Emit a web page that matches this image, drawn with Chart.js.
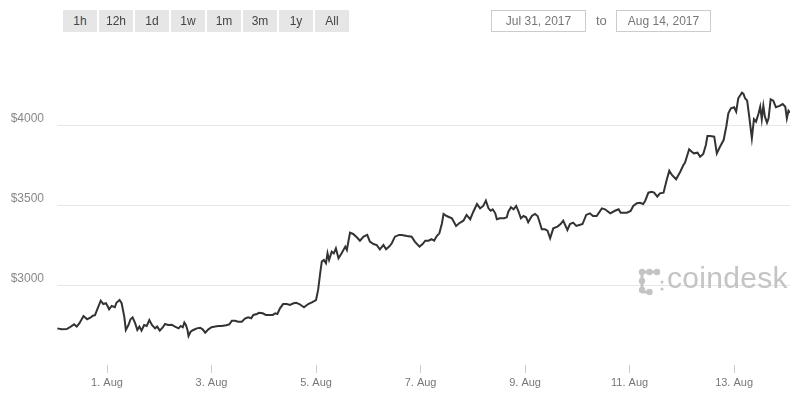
<!DOCTYPE html>
<html lang="en">
<head>
    <meta charset="UTF-8">
    <title>Bitcoin Price Chart</title>
    <style>
        body {
            margin: 0;
            background: #fff;
            font-family: "Liberation Sans", Arial, sans-serif;
        }
        .wrap {
            position: relative;
            width: 800px;
            height: 400px;
            overflow: hidden;
        }
        #priceChart {
            position: absolute;
            left: 0;
            top: 0;
        }
        .btn {
            position: absolute;
            top: 10px;
            width: 34px;
            height: 22px;
            line-height: 22px;
            background: #e6e6e6;
            color: #444;
            font-size: 12px;
            text-align: center;
        }
        .date {
            position: absolute;
            top: 10px;
            height: 20px;
            line-height: 20px;
            border: 1px solid #ccc;
            color: #777;
            font-size: 12px;
            text-align: center;
        }
        .to {
            position: absolute;
            top: 10px;
            left: 596px;
            line-height: 22px;
            color: #777;
            font-size: 13px;
        }
        .logo {
            position: absolute;
            left: 638px;
            top: 264px;
            pointer-events: none;
        }
        .logo span {
            position: absolute;
            left: 29px;
            top: -3px;
            font-size: 30px;
            color: #c4c4c4;
            letter-spacing: 0.3px;
        }
    </style>
</head>
<body>
<div class="wrap">
    <canvas id="priceChart" width="800" height="400"></canvas>

    <div class="btn" style="left:63px">1h</div>
    <div class="btn" style="left:99px">12h</div>
    <div class="btn" style="left:135px">1d</div>
    <div class="btn" style="left:171px">1w</div>
    <div class="btn" style="left:207px">1m</div>
    <div class="btn" style="left:243px">3m</div>
    <div class="btn" style="left:279px">1y</div>
    <div class="btn" style="left:315px">All</div>

    <div class="date" style="left:491px;width:93px">Jul 31, 2017</div>
    <div class="to">to</div>
    <div class="date" style="left:616px;width:93px">Aug 14, 2017</div>

    <div class="logo">
        <svg width="30" height="32" viewBox="0 0 30 32">
            <g fill="#c4c4c4" stroke="#c4c4c4">
                <line x1="4" y1="8" x2="19" y2="8" stroke-width="3"/>
                <line x1="4" y1="8" x2="4" y2="28" stroke-width="3"/>
                <line x1="4" y1="28" x2="11" y2="28" stroke-width="3"/>
                <circle cx="4" cy="8" r="3.2" stroke="none"/>
                <circle cx="11.5" cy="8" r="3.2" stroke="none"/>
                <circle cx="19" cy="8" r="3.2" stroke="none"/>
                <circle cx="4" cy="17" r="3.2" stroke="none"/>
                <circle cx="4" cy="26" r="3.2" stroke="none"/>
                <circle cx="11.5" cy="28" r="3.2" stroke="none"/>
                <circle cx="24" cy="18" r="1.5" stroke="none"/>
                <circle cx="24" cy="25" r="1.5" stroke="none"/>
            </g>
        </svg>
        <span>coindesk</span>
    </div>
</div>

<script src="https://cdn.jsdelivr.net/npm/chart.js"></script>
<script>
    // time in days since Jul 31 00:00, price in USD
    const days = [
        0.05, 0.13, 0.23, 0.29, 0.37, 0.42, 0.47, 0.55, 0.62, 0.69, 0.73, 0.77, 0.81, 0.88, 0.93, 0.98,
        1.01, 1.04, 1.09, 1.15, 1.18, 1.24, 1.28, 1.33, 1.36, 1.41, 1.45, 1.49, 1.54, 1.58, 1.62, 1.66,
        1.71, 1.76, 1.81, 1.86, 1.92, 1.96, 2.01, 2.07, 2.11, 2.17, 2.24, 2.30, 2.37, 2.41, 2.45, 2.48,
        2.51, 2.54, 2.56, 2.60, 2.65, 2.72, 2.78, 2.83, 2.88, 2.94, 3.00, 3.07, 3.13, 3.19, 3.28, 3.34,
        3.39, 3.45, 3.51, 3.58, 3.64, 3.70, 3.76, 3.80, 3.87, 3.91, 3.98, 4.04, 4.11, 4.17, 4.22, 4.26,
        4.31, 4.37, 4.44, 4.50, 4.57, 4.62, 4.68, 4.77, 4.85, 4.92, 5.00, 5.04, 5.08, 5.11, 5.15, 5.19,
        5.22, 5.25, 5.30, 5.34, 5.38, 5.43, 5.49, 5.56, 5.59, 5.65, 5.71, 5.78, 5.84, 5.91, 5.98, 6.03,
        6.10, 6.16, 6.22, 6.29, 6.34, 6.40, 6.45, 6.51, 6.59, 6.64, 6.74, 6.83, 6.89, 6.98, 7.04, 7.09,
        7.15, 7.21, 7.26, 7.31, 7.36, 7.41, 7.44, 7.50, 7.60, 7.68, 7.74, 7.82, 7.88, 7.95, 8.01, 8.08,
        8.14, 8.20, 8.25, 8.30, 8.34, 8.38, 8.43, 8.46, 8.52, 8.60, 8.65, 8.68, 8.73, 8.78, 8.83, 8.87,
        8.92, 8.97, 9.02, 9.06, 9.13, 9.19, 9.24, 9.27, 9.32, 9.38, 9.43, 9.48, 9.54, 9.62, 9.68, 9.73,
        9.81, 9.86, 9.92, 9.98, 10.04, 10.10, 10.17, 10.24, 10.30, 10.37, 10.47, 10.53, 10.63, 10.72, 10.79, 10.83,
        10.95, 11.02, 11.07, 11.14, 11.20, 11.26, 11.30, 11.36, 11.42, 11.47, 11.53, 11.58, 11.65, 11.71, 11.76, 11.81,
        11.89, 11.97, 12.03, 12.06, 12.14, 12.19, 12.23, 12.30, 12.35, 12.41, 12.46, 12.49, 12.54, 12.62, 12.67, 12.73,
        12.80, 12.85, 12.89, 12.94, 13.00, 13.04, 13.08, 13.15, 13.18, 13.21, 13.25, 13.29, 13.34, 13.38, 13.42, 13.47,
        13.50, 13.53, 13.56, 13.59, 13.63, 13.66, 13.70, 13.75, 13.80, 13.87, 13.93, 13.98, 14.01, 14.04, 14.07
    ];
    const prices = [
        2729, 2723, 2725, 2736, 2754, 2740, 2760, 2806, 2786, 2798, 2808, 2811, 2844, 2902, 2881, 2886,
        2869, 2848, 2869, 2861, 2889, 2906, 2886, 2802, 2719, 2750, 2786, 2798, 2760, 2719, 2740, 2715,
        2750, 2744, 2781, 2750, 2729, 2740, 2715, 2736, 2756, 2750, 2752, 2740, 2729, 2744, 2736, 2765,
        2750, 2719, 2681, 2708, 2719, 2729, 2733, 2723, 2702, 2723, 2736, 2740, 2744, 2744, 2748, 2754,
        2777, 2777, 2771, 2771, 2790, 2798, 2792, 2813, 2819, 2827, 2823, 2813, 2813, 2813, 2823, 2819,
        2854, 2881, 2881, 2875, 2886, 2889, 2881, 2861, 2881, 2892, 2906, 2969, 3075, 3146, 3156, 3136,
        3198, 3156, 3208, 3198, 3229, 3167, 3198, 3240, 3219, 3327, 3319, 3298, 3277, 3302, 3313, 3271,
        3256, 3250, 3223, 3250, 3223, 3240, 3261, 3302, 3313, 3313, 3306, 3302, 3271, 3240, 3256, 3277,
        3277, 3286, 3277, 3306, 3323, 3386, 3444, 3431, 3417, 3369, 3386, 3402, 3438, 3411, 3458, 3506,
        3479, 3494, 3527, 3479, 3464, 3473, 3448, 3411, 3417, 3417, 3423, 3458, 3486, 3473, 3494, 3464,
        3417, 3431, 3423, 3392, 3431, 3444, 3431, 3402, 3348, 3348, 3340, 3292, 3354, 3365, 3381, 3402,
        3344, 3381, 3390, 3369, 3375, 3381, 3438, 3448, 3431, 3431, 3479, 3473, 3448, 3464, 3473, 3452,
        3452, 3463, 3494, 3511, 3514, 3506, 3527, 3577, 3583, 3577, 3552, 3573, 3577, 3656, 3714, 3688,
        3661, 3708, 3750, 3764, 3848, 3833, 3823, 3827, 3802, 3819, 3875, 3931, 3931, 3927, 3823, 3864,
        3906, 3989, 4073, 4104, 4111, 4083, 4167, 4202, 4194, 4167, 4152, 4052, 3917, 4036, 4021, 4073,
        4114, 4036, 4119, 4052, 4014, 4042, 4161, 4152, 4111, 4119, 4131, 4114, 4042, 4089, 4077
    ];

    const xTickDays = [1, 3, 5, 7, 9, 11, 13];
    const xTickLabels = ['1. Aug', '3. Aug', '5. Aug', '7. Aug', '9. Aug', '11. Aug', '13. Aug'];
    const yTickValues = [3000, 3500, 4000];

    const points = days.map((d, i) => ({ x: d, y: prices[i] }));

    new Chart(document.getElementById('priceChart'), {
        type: 'line',
        data: {
            datasets: [{
                data: points,
                borderColor: '#333',
                borderWidth: 2,
                pointRadius: 0,
                tension: 0,
                fill: false
            }]
        },
        options: {
            responsive: false,
            animation: false,
            layout: { padding: { top: 45, right: 10, left: 0, bottom: 0 } },
            plugins: {
                legend: { display: false },
                tooltip: { enabled: false }
            },
            scales: {
                x: {
                    type: 'linear',
                    min: 0.043,
                    max: 14.07,
                    afterBuildTicks: scale => {
                        scale.ticks = xTickDays.map(v => ({ value: v }));
                    },
                    afterFit: scale => { scale.height = 35; },
                    grid: {
                        drawOnChartArea: false,
                        drawTicks: true,
                        tickLength: 8,
                        color: '#ccc'
                    },
                    border: { display: false },
                    ticks: {
                        autoSkip: false,
                        maxRotation: 0,
                        padding: 3,
                        color: '#777',
                        font: { family: '"Liberation Sans", Arial, sans-serif', size: 11 },
                        callback: v => xTickLabels[xTickDays.indexOf(v)] || ''
                    }
                },
                y: {
                    min: 2500,
                    max: 4500,
                    afterFit: scale => { scale.width = 57; },
                    grid: {
                        drawTicks: false,
                        color: ctx => yTickValues.includes(ctx.tick.value) ? '#e6e6e6' : 'rgba(0,0,0,0)'
                    },
                    border: { display: false },
                    ticks: {
                        stepSize: 500,
                        padding: 13,
                        labelOffset: -6,
                        color: '#888',
                        font: { family: '"Liberation Sans", Arial, sans-serif', size: 12 },
                        callback: v => yTickValues.includes(v) ? '$' + v : ''
                    }
                }
            }
        }
    });
</script>
</body>
</html>
